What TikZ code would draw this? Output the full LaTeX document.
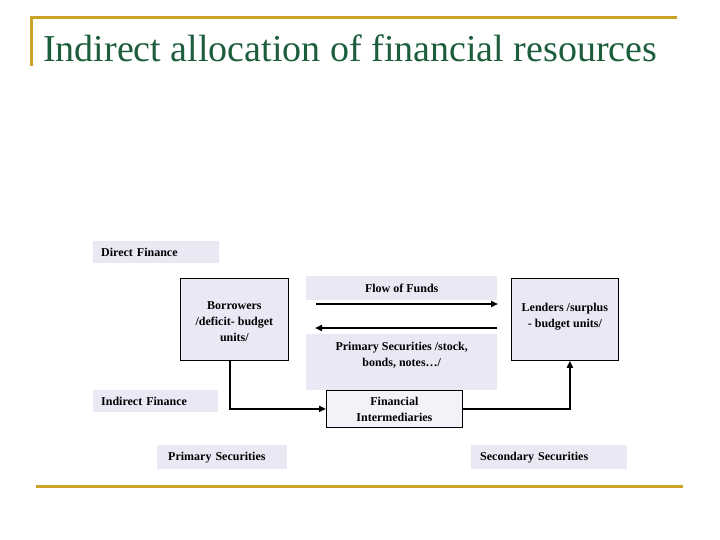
\documentclass[tikz,border=0pt]{standalone}
\usepackage{fontspec}
\setmainfont{Liberation Serif}
\usetikzlibrary{arrows.meta}
\definecolor{gold}{HTML}{C9A227}
\definecolor{titlegreen}{HTML}{1C5E3C}
\definecolor{lav}{HTML}{E9E9F5}
\tikzset{
  txt/.style={font=\fontsize{12}{16}\selectfont\bfseries},
  lbl/.style={txt, fill=lav, inner sep=0pt, align=center},
  bx/.style={txt, draw=black, line width=0.8pt, fill=lav, inner sep=0pt, align=center},
  flow/.style={line width=2pt, -{Triangle[length=7pt,width=6pt]}},
  goldline/.style={gold, line width=3pt}
}
\begin{document}
\begin{tikzpicture}[x=1pt,y=-1pt]
\useasboundingbox (0,0) rectangle (720,540);
% frame lines
\draw[goldline] (30,18) -- (677,18);
\draw[goldline] (31,17) -- (31,66);
\draw[goldline] (36,486) -- (683,486);
\node[anchor=base west, text=titlegreen, font=\fontsize{38}{40}\selectfont, inner sep=0pt] (title) at (43,62) {Indirect allocation of financial resources};
% label boxes
\node[lbl, minimum width=126pt, minimum height=22pt, anchor=north west, text width=110pt, align=left] (direct) at (93,241) {Direct Finance};
\node[lbl, minimum width=191pt, minimum height=24pt, anchor=north west] (flowlbl) at (306,276) {Flow of Funds};
\node[lbl, minimum width=191pt, minimum height=56pt, anchor=north west, text width=191pt] (primlbl) at (306,334) {};
\node[txt, align=center, inner sep=0pt, anchor=north] (primtxt) at ([yshift=-8pt]primlbl.north) {Primary Securities /stock,\\bonds, notes…/};
\node[lbl, minimum width=125pt, minimum height=22pt, anchor=north west, text width=109pt, align=left] (indirect) at (93,390) {Indirect Finance};
\node[lbl, minimum width=130pt, minimum height=24pt, anchor=north west, text width=108pt, align=left] (primsec) at (157,445) {Primary Securities};
\node[lbl, minimum width=156pt, minimum height=24pt, anchor=north west, text width=138pt, align=left] (secsec) at (471,445) {Secondary Securities};
% main boxes
\node[bx, minimum width=108pt, minimum height=82pt, anchor=north west] (borrow) at (180,278) {};
\node[txt, align=center, inner sep=0pt, anchor=north] (borrowtxt) at ([yshift=-23pt]borrow.north) {Borrowers\\/deficit- budget\\units/};
\node[bx, minimum width=107pt, minimum height=82pt, anchor=north west] (lend) at (511,278) {};
\node[txt, align=center, inner sep=0pt, anchor=north] (lendtxt) at ([yshift=-25pt]lend.north) {Lenders /surplus\\- budget units/};
\node[bx, fill=lav!60!white, minimum width=136pt, minimum height=37pt, anchor=north west] (fi) at (326,390) {Financial\\Intermediaries};
% arrows
\coordinate (r1) at (316,304);
\coordinate (r2) at (498,304);
\coordinate (l1) at (497,328);
\coordinate (l2) at (315,328);
\draw[flow] (r1) -- (r2);
\draw[flow] (l1) -- (l2);
\draw[flow] ([xshift=-4pt]borrow.south) |- (fi.west);
\draw[flow] (fi.east) -| ([xshift=5pt]lend.south);
\end{tikzpicture}
\end{document}
